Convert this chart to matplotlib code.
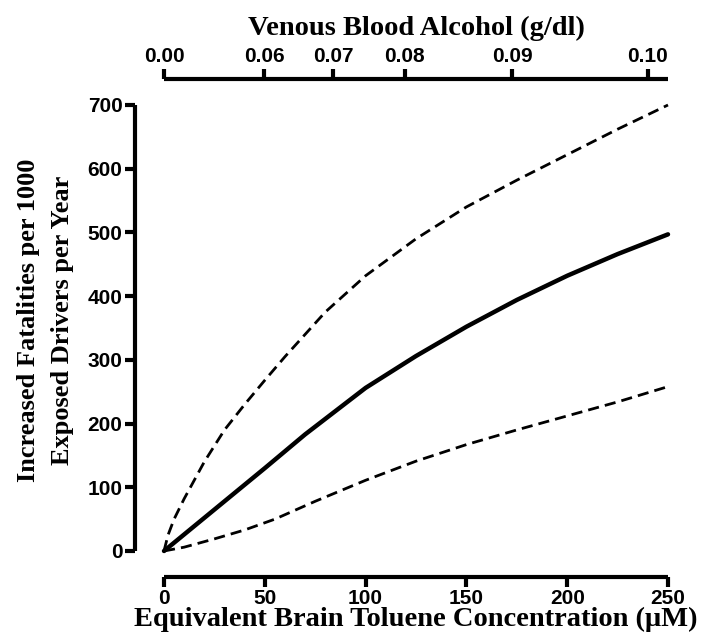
import matplotlib
matplotlib.use("Agg")
import matplotlib.pyplot as plt

# Data
toluene_mid = [0, 10, 20, 40, 50, 70, 100, 125, 150, 175, 200, 225, 250]
fatal_mid = [0, 26, 52, 104, 130, 183, 256, 306, 352, 394, 432, 466, 497]

toluene_up = [0, 2, 5, 10, 20, 30, 40, 50, 60, 80, 100, 125, 150, 175, 200, 225, 250]
fatal_up = [0, 25, 50, 82, 140, 190, 230, 268, 305, 375, 432, 490, 540, 582, 622, 662, 700]

toluene_lo = [0, 10, 25, 40, 55, 75, 100, 125, 150, 175, 200, 225, 250]
fatal_lo = [0, 6, 19, 33, 50, 78, 111, 141, 167, 190, 212, 234, 258]

x_ticks = [0, 50, 100, 150, 200, 250]
y_ticks = [0, 100, 200, 300, 400, 500, 600, 700]
alcohol_pos = [0, 49.6, 83.8, 119.5, 172.6, 240]
alcohol_labels = ["0.00", "0.06", "0.07", "0.08", "0.09", "0.10"]

W, H, DPI = 708, 637, 100
fig = plt.figure(figsize=(W / DPI, H / DPI), dpi=DPI)
left, right = 164 / W, 668 / W
bottom, top = 1 - 551 / H, 1 - 105 / H
ax = fig.add_axes([left, bottom, right - left, top - bottom])

sans = "Liberation Sans"
serif = "Liberation Serif"
spine_lw = 3.0
px2pt = 72 / DPI

ax.plot(toluene_mid, fatal_mid, color="black", lw=3.2, solid_capstyle="round",
        solid_joinstyle="round", clip_on=False)
ax.plot(toluene_up, fatal_up, color="black", lw=2.0, dashes=(4, 2.2), clip_on=False)
ax.plot(toluene_lo, fatal_lo, color="black", lw=2.0, dashes=(4, 2.2), clip_on=False)

ax.set_xlim(0, 250)
ax.set_ylim(0, 700)
ax.set_xticks(x_ticks)
ax.set_yticks(y_ticks)
ax.set_xticklabels([str(v) for v in x_ticks])
ax.set_yticklabels([str(v) for v in y_ticks])

for s in ["top", "right"]:
    ax.spines[s].set_visible(False)
ax.spines["left"].set_position(("outward", 29 * px2pt))
ax.spines["bottom"].set_position(("outward", 26 * px2pt))
for s in ["left", "bottom"]:
    ax.spines[s].set_linewidth(spine_lw)
    ax.spines[s].set_capstyle("butt")
ax.tick_params(axis="both", direction="out", length=7, width=spine_lw, pad=2,
               labelsize=15)
for lab in ax.get_xticklabels() + ax.get_yticklabels():
    lab.set_fontfamily(sans)
    lab.set_fontweight("bold")
    lab.set_fontsize(15)

ax.set_xlabel("Equivalent Brain Toluene Concentration (\u03bcM)", fontfamily=serif,
              fontweight="bold", fontsize=20.5, labelpad=-1)
ax.set_ylabel("Increased Fatalities per 1000\nExposed Drivers per Year", fontfamily=serif,
              fontweight="bold", fontsize=19, labelpad=12, linespacing=1.6)
ax.yaxis.set_label_coords(-0.178, 0.517)

ax2 = ax.twiny()
ax2.set_xlim(ax.get_xlim())
ax2.set_xticks(alcohol_pos)
ax2.set_xticklabels(alcohol_labels)
for s in ["bottom", "left", "right"]:
    ax2.spines[s].set_visible(False)
ax2.spines["top"].set_position(("outward", 26 * px2pt))
ax2.spines["top"].set_linewidth(spine_lw)
ax2.spines["top"].set_capstyle("butt")
ax2.tick_params(axis="x", direction="out", length=7, width=spine_lw, pad=2, labelsize=15)
for lab in ax2.get_xticklabels():
    lab.set_fontfamily(sans)
    lab.set_fontweight("bold")
    lab.set_fontsize(15)
ax2.set_xlabel("Venous Blood Alcohol (g/dl)", fontfamily=serif, fontweight="bold",
               fontsize=20.5, labelpad=9)

fig.savefig("out.png", dpi=DPI)
